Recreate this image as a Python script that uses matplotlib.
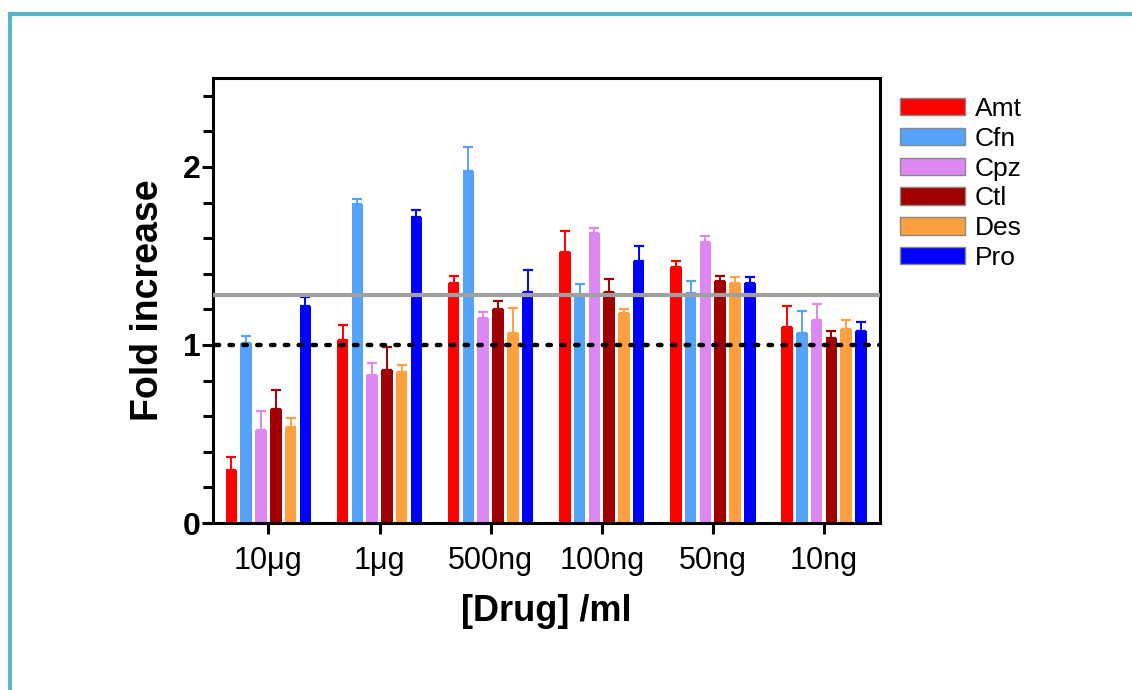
import numpy as np
import matplotlib
matplotlib.use("Agg")
import matplotlib.pyplot as plt
from matplotlib.ticker import MultipleLocator
from matplotlib.lines import Line2D

plt.rcParams['font.family'] = ['Liberation Sans', 'DejaVu Sans']

# data
doses = ["10\u03bcg", "1\u03bcg", "500ng", "100ng", "50ng", "10ng"]
drugs = ["Amt", "Cfn", "Cpz", "Ctl", "Des", "Pro"]
colors = ["#FF0000", "#55A2FA", "#DD88F2", "#A00000", "#FFA040", "#0000FF"]

amt = [0.30, 1.03, 1.35, 1.52, 1.44, 1.10]
cfn = [1.01, 1.79, 1.98, 1.28, 1.29, 1.07]
cpz = [0.52, 0.83, 1.15, 1.63, 1.58, 1.14]
ctl = [0.64, 0.86, 1.20, 1.30, 1.36, 1.04]
des = [0.54, 0.85, 1.07, 1.18, 1.35, 1.09]
pro = [1.22, 1.72, 1.30, 1.47, 1.35, 1.08]

amt_err = [0.07, 0.08, 0.035, 0.12, 0.03, 0.12]
cfn_err = [0.04, 0.03, 0.13, 0.06, 0.07, 0.12]
cpz_err = [0.11, 0.07, 0.035, 0.025, 0.035, 0.09]
ctl_err = [0.11, 0.13, 0.045, 0.07, 0.025, 0.04]
des_err = [0.05, 0.04, 0.14, 0.025, 0.03, 0.05]
pro_err = [0.05, 0.04, 0.12, 0.085, 0.03, 0.05]

baseline = 1.0
threshold = 1.28

values = [amt, cfn, cpz, ctl, des, pro]
errors = [amt_err, cfn_err, cpz_err, ctl_err, des_err, pro_err]

fig = plt.figure(figsize=(11.32, 6.9), dpi=100)
ax = fig.add_axes([0.188, 0.242, 0.589, 0.645])

x = np.arange(len(doses))
pitch = 0.133
width = 0.104
for i, (name, col, v, e) in enumerate(zip(drugs, colors, values, errors)):
    pos = x + (i - 2.5) * pitch
    ax.bar(pos, v, width=width, color=col, label=name, zorder=2, linewidth=0)
    ax.errorbar(pos, v, yerr=[np.zeros(len(v)), e], fmt="none", ecolor=col,
                elinewidth=1.4, capsize=3.5, capthick=1.6, zorder=1.5)

ax.axhline(threshold, color="#A0A0A0", linewidth=3.0, zorder=3)
ax.axhline(baseline, color="black", linewidth=3.2, linestyle=(2.5, (0.78, 2.33)),
           dash_capstyle="round", zorder=4)

ax.set_xlim(-0.5, 5.5)
ax.set_ylim(0, 2.5)
ax.set_xticks(x)
ax.set_xticklabels(doses, fontsize=22)
ax.set_yticks([0, 1, 2])
ax.set_yticklabels(["0", "1", "2"], fontsize=23, fontweight="bold")
ax.yaxis.set_minor_locator(MultipleLocator(0.2))

for s in ax.spines.values():
    s.set_linewidth(2.2)
ax.tick_params(axis="both", which="major", length=8, width=2.2, direction="out")
ax.tick_params(axis="y", which="minor", length=7, width=2.2, direction="out")
ax.tick_params(axis="y", which="major", pad=1)
ax.tick_params(axis="x", which="major", pad=8.5)

ax.set_ylabel("Fold increase", fontsize=27, fontweight="bold", labelpad=12)
ax.set_xlabel("[Drug] /ml", fontsize=26, fontweight="bold", labelpad=13)

fig.legend(loc="upper left", bbox_to_anchor=(900 / 1132, 1 - 97 / 690),
           frameon=False, fontsize=19, handlelength=2.46, handleheight=0.64,
           labelspacing=0.22, handletextpad=0.38, borderpad=0,
           borderaxespad=0)
for h in fig.legends[0].legend_handles:
    h.set_edgecolor("#888888")
    h.set_linewidth(1.0)

# page frame
fig.add_artist(Line2D([10 / 1132, 10 / 1132], [0, 1 - 14 / 690],
                      color="#5AB4CC", linewidth=3, transform=fig.transFigure))
fig.add_artist(Line2D([10 / 1132, 1.0], [1 - 14 / 690, 1 - 14 / 690],
                      color="#5AB4CC", linewidth=3, transform=fig.transFigure))

plt.savefig("out.png", dpi=100)
